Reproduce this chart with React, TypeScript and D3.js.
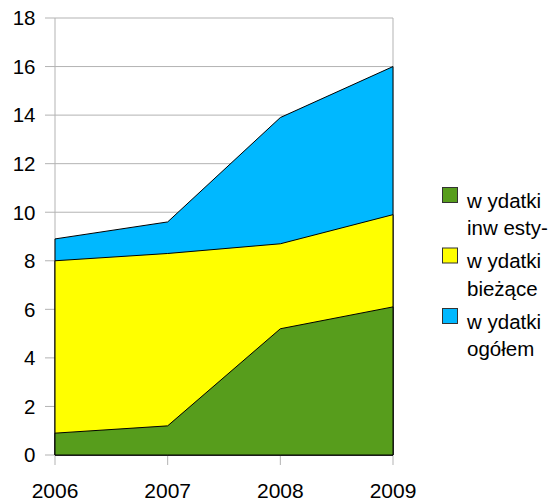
import * as d3 from "d3";

const years = ["2006", "2007", "2008", "2009"];
const inwestycyjne = [0.9, 1.2, 5.2, 6.1];
const biezace = [8.0, 8.3, 8.7, 9.9];
const ogolem = [8.9, 9.6, 13.9, 16.0];
const yTicks = [0, 2, 4, 6, 8, 10, 12, 14, 16, 18];

const series = [
  { name: ["w ydatki", "ogółem"], values: ogolem, color: "#00b8ff" },
  { name: ["w ydatki", "bieżące"], values: biezace, color: "#ffff00" },
  { name: ["w ydatki", "inw esty-"], values: inwestycyjne, color: "#579d1c" },
];

const W = 557;
const H = 504;
const left = 55;
const right = 393;
const top = 18;
const bottom = 455;
const font = "'Liberation Sans', Arial, sans-serif";

export default function App() {
  const x = d3.scalePoint<string>().domain(years).range([left, right]);
  const y = d3.scaleLinear().domain([0, 18]).range([bottom, top]);

  const area = d3
    .area<number>()
    .x((_, i) => x(years[i]) as number)
    .y0(y(0))
    .y1((d) => y(d));

  // legend order: green, yellow, blue (top to bottom)
  const legend = [...series].reverse();

  return (
    <svg
      width={W}
      height={H}
      style={{ position: "absolute", left: 0, top: 0, background: "#fff" }}
      fontFamily={font}
    >
      {yTicks.map((t) => (
        <g key={t}>
          <line x1={45} x2={right} y1={y(t)} y2={y(t)} stroke="#b3b3b3" strokeWidth={1} />
          <text x={35.5} y={y(t)} dy="0.36em" textAnchor="end" fontSize={20.5} fill="#000">
            {t}
          </text>
        </g>
      ))}
      <line x1={left} x2={left} y1={top} y2={bottom} stroke="#b3b3b3" />
      <line x1={right} x2={right} y1={top} y2={bottom} stroke="#b3b3b3" />
      {years.map((yr) => (
        <g key={yr}>
          <line x1={x(yr)} x2={x(yr)} y1={bottom} y2={bottom + 10} stroke="#b3b3b3" />
          <text x={x(yr)} y={498} textAnchor="middle" fontSize={21} fill="#000">
            {yr}
          </text>
        </g>
      ))}
      {series.map((s) => (
        <path
          key={s.color}
          d={area(s.values) as string}
          fill={s.color}
          stroke="#000"
          strokeWidth={1}
          strokeLinejoin="round"
        />
      ))}
      {legend.map((s, i) => (
        <g key={s.color} transform={`translate(442,${187 + i * 60.5})`}>
          <rect x={0.5} y={0.5} width={15} height={15} fill={s.color} stroke="#333" strokeWidth={1} />
          <text x={25} y={20.5} fontSize={20.5} fill="#000">
            {s.name[0]}
          </text>
          <text x={25} y={48} fontSize={20.5} fill="#000">
            {s.name[1]}
          </text>
        </g>
      ))}
    </svg>
  );
}
